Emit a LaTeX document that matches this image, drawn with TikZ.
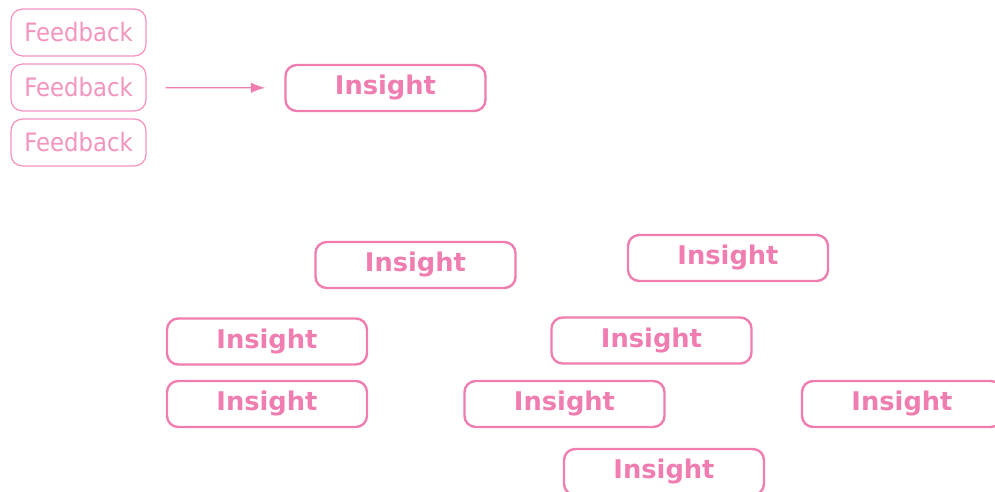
\documentclass[tikz,border=0pt]{standalone}
\usepackage{fontspec}
\setmainfont{DejaVu Sans}
\newfontfamily\fbfont[FakeStretch=0.9]{DejaVu Sans}
\usetikzlibrary{arrows.meta}
\definecolor{spink}{HTML}{F07DB0}
\definecolor{spinklt}{HTML}{F393BE}
\tikzset{
  >=Latex,
  fbox/.style={
    draw=spinklt, line width=0.9pt, rounded corners=8pt, text=spinklt,
    minimum width=3.37cm, minimum height=1.17cm, inner sep=0pt,
    font=\fbfont\fontsize{18}{20}\selectfont
  },
  ibox/.style={
    draw=spink, line width=1.7pt, rounded corners=8pt, text=spink,
    minimum width=5.0cm, minimum height=1.15cm, inner sep=0pt,
    font=\fontsize{18.3}{20}\selectfont\bfseries
  },
  arr/.style={-{Latex[length=3.6mm,width=2.6mm]}, line width=0.9pt, draw=spink}
}
\begin{document}
\begin{tikzpicture}[x=0.025cm, y=-0.025cm]
  \useasboundingbox (0,0) rectangle (995,492);
  % feedback column
  \node[fbox] (fb1) at (78.5,32.5) {Feedback};
  \node[fbox] (fb2) at (78.5,87.5) {Feedback};
  \node[fbox] (fb3) at (78.5,142.5) {Feedback};
  \node[ibox] (ins) at (385.5,88) {Insight};
  \draw[arr, shorten <=19*0.025cm, shorten >=19*0.025cm] (fb2) -- (ins);
  % scattered insights
  \node[ibox] (insA) at (415.5,265) {Insight};
  \node[ibox] (insB) at (728,258) {Insight};
  \node[ibox] (insC) at (267,341.5) {Insight};
  \node[ibox] (insD) at (651.5,340.5) {Insight};
  \node[ibox] (insE) at (267,404) {Insight};
  \node[ibox] (insF) at (564.5,404) {Insight};
  \node[ibox] (insG) at (902,404) {Insight};
  \node[ibox] (insH) at (664,472) {Insight};
\end{tikzpicture}
\end{document}
